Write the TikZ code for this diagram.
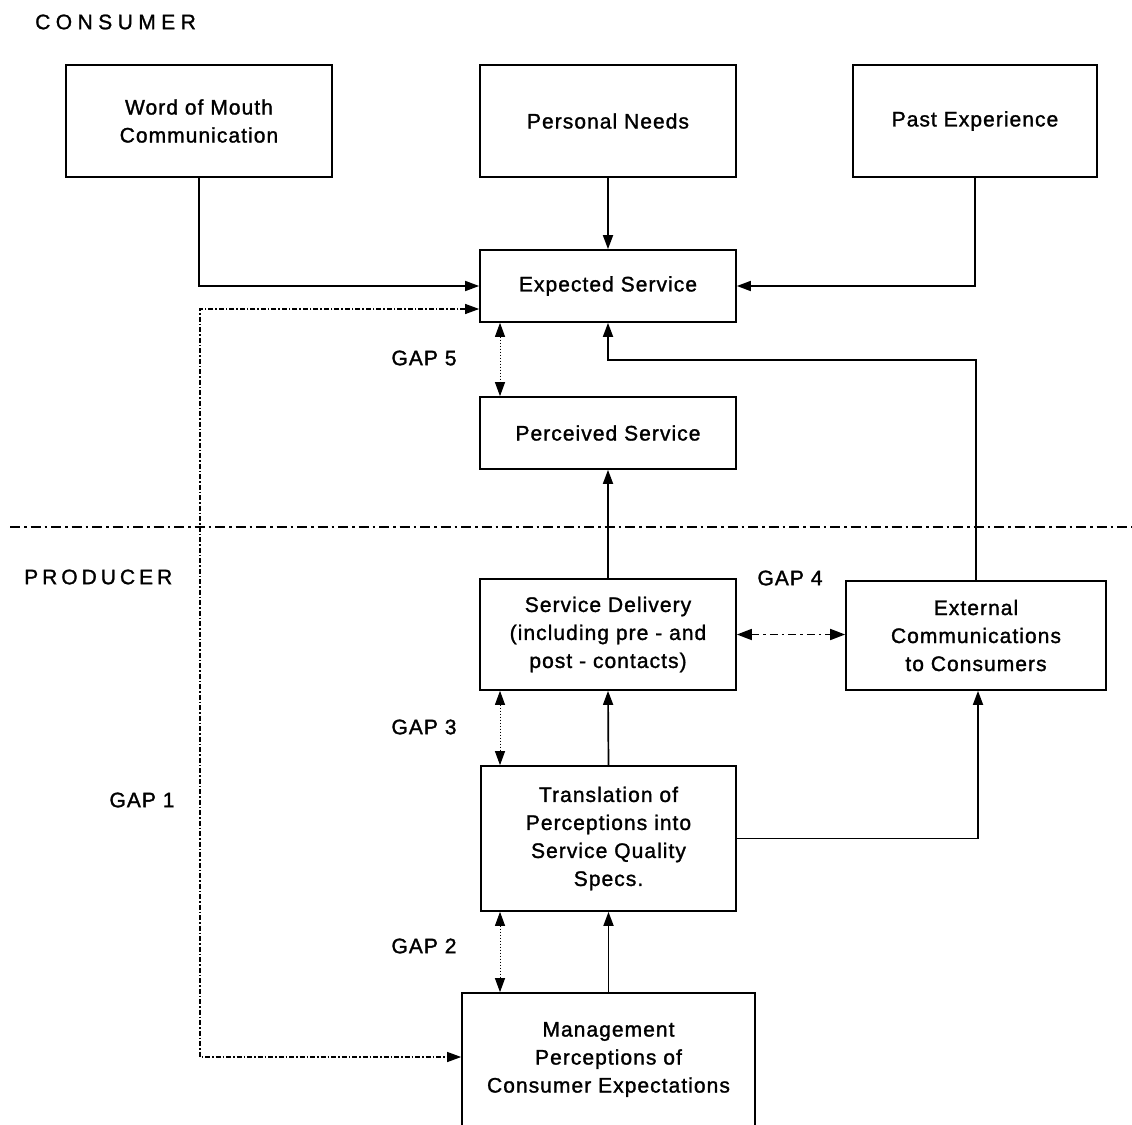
\documentclass[tikz,border=0pt]{standalone}
\usepackage{fontspec}
\setmainfont{Liberation Sans}
\newfontfamily\lblfam[LetterSpace=5,FakeBold=1.4]{Liberation Sans}
\newfontfamily\hdrfam[LetterSpace=26,FakeBold=1.2]{Liberation Sans}
\newfontfamily\prodfam[LetterSpace=19,FakeBold=1.2]{Liberation Sans}
\newcommand\boxfont{\lblfam\fontsize{21}{28}\selectfont}
\newcommand\hdrfont{\hdrfam\fontsize{21}{28}\selectfont}
\newcommand\prodfont{\prodfam\fontsize{21}{28}\selectfont}
\usetikzlibrary{arrows.meta,calc}
\begin{document}
\begin{tikzpicture}[x=1pt,y=-1pt,
  tip/.tip={Triangle[length=14pt,width=10pt]},
  box/.style={draw, line width=1.7pt, align=center, font=\boxfont, inner sep=0pt},
  conn/.style={line width=1.7pt, -tip},
  gapdot/.style={line width=1pt, dash pattern=on 1.5pt off 1.5pt, tip-tip},
  gapone/.style={line width=1.2pt, dash pattern=on 5pt off 2pt on 1.5pt off 2pt, tip-tip},
  gapfour/.style={line width=1.7pt, dash pattern=on 8pt off 4pt on 2.5pt off 4pt, {Triangle[length=15pt,width=11pt]}-{Triangle[length=15pt,width=11pt]}},
  sep/.style={line width=1.7pt, dash pattern=on 10pt off 4pt on 2.5pt off 4pt},
  lbl/.style={font=\boxfont, inner sep=0pt},
  hdr/.style={inner sep=0pt, anchor=west}]
\useasboundingbox (0,0) rectangle (1132,1124);

% headers
\node[hdr, font=\hdrfont] (consumer) at (35,22) {CONSUMER};
\node[hdr, font=\prodfont] (producer) at (24,577) {PRODUCER};

% boxes
\node[box, minimum width=266pt, minimum height=112pt] (word) at (199,121) {Word of Mouth\\Communication};
\node[box, minimum width=256pt, minimum height=112pt] (needs) at (608,121) {Personal Needs};
\node[box, minimum width=244pt, minimum height=112pt] (past) at (975,121) {Past Experience};
\node[box, minimum width=256pt, minimum height=72pt] (expected) at (608,286) {Expected Service};
\node[box, minimum width=256pt, minimum height=72pt] (perceived) at (608,433) {Perceived Service};
\node[box, minimum width=256pt, minimum height=111pt] (delivery) at (608,634.5) {Service Delivery\\(including pre - and\\post - contacts)};
\node[box, minimum width=260pt, minimum height=109pt] (external) at (976,635.5) {External\\Communications\\to Consumers};
\node[box, minimum width=255pt, minimum height=145pt] (translation) at (608.5,838.5) {Translation of\\Perceptions into\\Service Quality\\Specs.};
\node[box, minimum width=293pt, minimum height=133pt] (management) at (608.5,1059.5) {Management\\Perceptions of\\Consumer Expectations};

% gap labels
\node[lbl] (gap5) at (424,358) {GAP 5};
\node[lbl] (gap4) at (790,578) {GAP 4};
\node[lbl] (gap3) at (424,727) {GAP 3};
\node[lbl] (gap2) at (424,946) {GAP 2};
\node[lbl] (gap1) at (142,800) {GAP 1};

% separator
\coordinate (sepL) at (10,527);
\coordinate (sepR) at (1132,527);
\draw[sep] (sepL) -- (sepR);

% consumer side connectors
\draw[conn] (word.south) |- (expected.west);
\draw[conn] (needs.south) -- (expected.north);
\draw[conn] (past.south) |- (expected.east);

% gap 1
\coordinate (g1a) at (200,309);
\coordinate (g1b) at (200,1057);
\draw[gapone] (expected.west |- g1a) -- (g1a) -- (g1b) -- (management.west |- g1b);

% gap arrows column
\coordinate (gx) at (500,0);
\draw[gapdot] (expected.south -| gx) -- (perceived.north -| gx);
\draw[gapdot] (delivery.south -| gx) -- (translation.north -| gx);
\draw[gapdot] (translation.south -| gx) -- (management.north -| gx);

% gap 4
\draw[gapfour] (delivery.east) -- (delivery.east -| external.west);

% producer connectors
\draw[conn] (delivery.north) -- (perceived.south);
\coordinate (turnE) at (0,360);
\draw[conn] (external.north) -- (external.north |- turnE) -- (expected.south |- turnE) -- (expected.south);
\draw[conn] (translation.north) -- (delivery.south);
\coordinate (extin) at (978,0);
\draw[conn] (translation.east) -- (translation.east -| extin) -- (external.south -| extin);
\draw[conn] (management.north) -- (translation.south);
\end{tikzpicture}
\end{document}
